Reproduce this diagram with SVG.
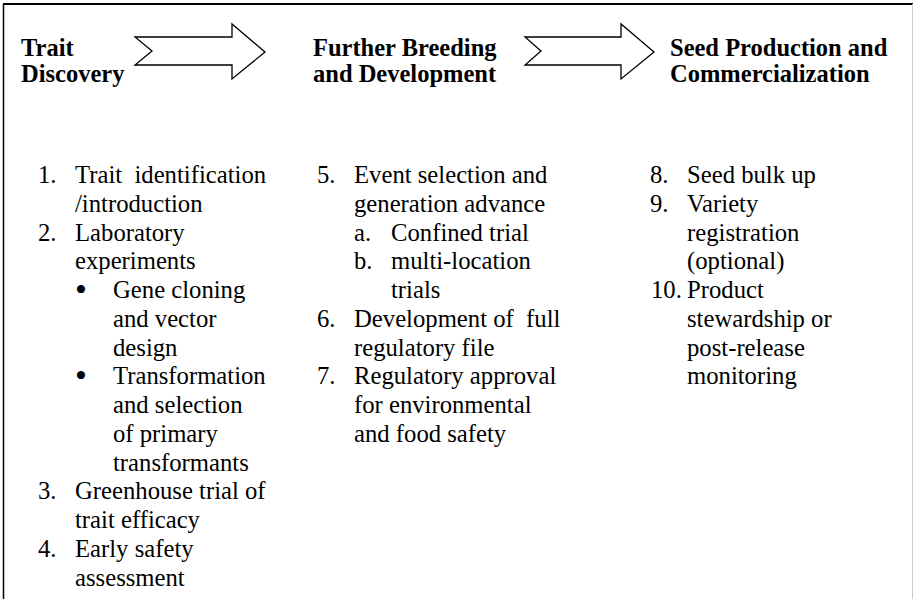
<svg xmlns="http://www.w3.org/2000/svg" width="914" height="599" viewBox="0 0 914 599">
<style>
.h{font-family:"Liberation Serif","Times New Roman",serif;font-weight:bold;font-size:24.5px;fill:#000}
.b{font-family:"Liberation Serif","Times New Roman",serif;font-size:24.7px;fill:#000}
.bu{font-family:"Liberation Serif","Times New Roman",serif;font-size:34px;fill:#000}
.arr{fill:#fff;stroke:#000;stroke-width:1.3;stroke-linejoin:miter}
</style>
<rect x="0" y="0" width="914" height="599" fill="#fff"/>
<g id="frame">
<line x1="3.5" y1="4" x2="3.5" y2="599" stroke="#000" stroke-width="1.5"/>
<line x1="3" y1="4" x2="913" y2="4" stroke="#000" stroke-width="2"/>
<line x1="912.5" y1="4" x2="912.5" y2="599" stroke="#ccc" stroke-width="1"/>
</g>
<g id="connectors">
<polygon class="arr" points="135,37 232,37 232,24 265,52 232,79 232,65 135,65 152,51"/>
<polygon class="arr" points="525,37 621,37 621,24 654,52 621,79 621,65 525,65 541,51"/>
</g>
<g id="trait-discovery">
<text class="h" x="21" y="56">Trait</text>
<text class="h" x="21" y="82">Discovery</text>
<text class="b" x="38" y="183">1.</text><text class="b" x="75" y="183">Trait&#160; identification</text>
<text class="b" x="75" y="211.75">/introduction</text>
<text class="b" x="38" y="240.5">2.</text><text class="b" x="75" y="240.5">Laboratory</text>
<text class="b" x="75" y="269.25">experiments</text>
<text class="bu" x="75" y="301">•</text><text class="b" x="113" y="298">Gene cloning</text>
<text class="b" x="113" y="326.75">and vector</text>
<text class="b" x="113" y="355.5">design</text>
<text class="bu" x="75" y="387.25">•</text><text class="b" x="113" y="384.25">Transformation</text>
<text class="b" x="113" y="413">and selection</text>
<text class="b" x="113" y="441.75">of primary</text>
<text class="b" x="113" y="470.5">transformants</text>
<text class="b" x="38" y="499.25">3.</text><text class="b" x="75" y="499.25">Greenhouse trial of</text>
<text class="b" x="75" y="528">trait efficacy</text>
<text class="b" x="38" y="556.75">4.</text><text class="b" x="75" y="556.75">Early safety</text>
<text class="b" x="75" y="585.5">assessment</text>
</g>
<g id="further-breeding">
<text class="h" x="313" y="56">Further Breeding</text>
<text class="h" x="313" y="82">and Development</text>
<text class="b" x="317" y="183">5.</text><text class="b" x="354" y="183">Event selection and</text>
<text class="b" x="354" y="211.75">generation advance</text>
<text class="b" x="354" y="240.5">a.</text><text class="b" x="391" y="240.5">Confined trial</text>
<text class="b" x="354" y="269.25">b.</text><text class="b" x="391" y="269.25">multi-location</text>
<text class="b" x="391" y="298">trials</text>
<text class="b" x="317" y="326.75">6.</text><text class="b" x="354" y="326.75">Development of&#160; full</text>
<text class="b" x="354" y="355.5">regulatory file</text>
<text class="b" x="317" y="384.25">7.</text><text class="b" x="354" y="384.25">Regulatory approval</text>
<text class="b" x="354" y="413">for environmental</text>
<text class="b" x="354" y="441.75">and food safety</text>
</g>
<g id="seed-production">
<text class="h" x="670" y="56">Seed Production and</text>
<text class="h" x="670" y="82">Commercialization</text>
<text class="b" x="650" y="183">8.</text><text class="b" x="687" y="183">Seed bulk up</text>
<text class="b" x="650" y="211.75">9.</text><text class="b" x="687" y="211.75">Variety</text>
<text class="b" x="687" y="240.5">registration</text>
<text class="b" x="687" y="269.25">(optional)</text>
<text class="b" x="651" y="298">10.</text><text class="b" x="687" y="298">Product</text>
<text class="b" x="687" y="326.75">stewardship or</text>
<text class="b" x="687" y="355.5">post-release</text>
<text class="b" x="687" y="384.25">monitoring</text>
</g>
</svg>
